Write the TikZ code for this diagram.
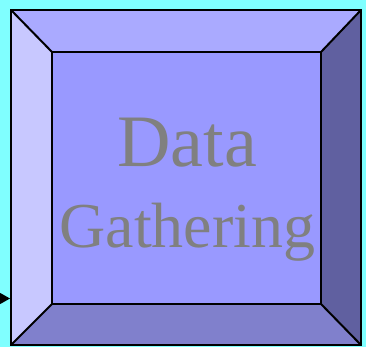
\documentclass[tikz,border=0pt]{standalone}
\usepackage{fontspec}
\setmainfont{Liberation Serif}
\usetikzlibrary{arrows.meta}
\definecolor{bgc}{RGB}{128,255,255}
\definecolor{topc}{RGB}{170,170,255}
\definecolor{leftc}{RGB}{200,200,255}
\definecolor{midc}{RGB}{153,153,255}
\definecolor{rightc}{RGB}{96,96,160}
\definecolor{botc}{RGB}{128,128,204}
\definecolor{txtc}{RGB}{128,128,128}
\tikzset{face/.style={draw=black,line width=2pt,line join=miter}}
\begin{document}
\begin{tikzpicture}[x=1pt,y=-1pt]
\fill[bgc] (0,0) rectangle (366,347);
\useasboundingbox (0,0) rectangle (366,347);
\coordinate (o1) at (11,10);
\coordinate (o2) at (361,10);
\coordinate (o3) at (361,345);
\coordinate (o4) at (11,345);
\coordinate (i1) at (52,52);
\coordinate (i2) at (321,52);
\coordinate (i3) at (321,304);
\coordinate (i4) at (52,304);
\fill[topc] (o1) -- (o2) -- (i2) -- (i1) -- cycle;
\fill[rightc] (o2) -- (o3) -- (i3) -- (i2) -- cycle;
\fill[botc] (o3) -- (o4) -- (i4) -- (i3) -- cycle;
\fill[leftc] (o4) -- (o1) -- (i1) -- (i4) -- cycle;
\fill[midc] (i1) rectangle (i3);
\draw[face] (o1) -- (o2) -- (o3) -- (o4) -- cycle;
\draw[face] (i1) -- (i2) -- (i3) -- (i4) -- cycle;
\draw[face] (o1) -- (i1) (o2) -- (i2) (o3) -- (i3) (o4) -- (i4);
\node[text=txtc,anchor=base,inner sep=0pt,font=\fontsize{74}{74}\selectfont] (t1) at (187,167) {Data};
\node[text=txtc,anchor=base,inner sep=0pt,font=\fontsize{64}{64}\selectfont] (t2) at (187.5,247) {Gathering};
\coordinate (src) at (0,298.5);
\coordinate (dst) at (10,298.5);
\draw[line width=1pt,-{Triangle[length=10pt,width=11pt]}] (src) -- (dst);
\end{tikzpicture}
\end{document}
